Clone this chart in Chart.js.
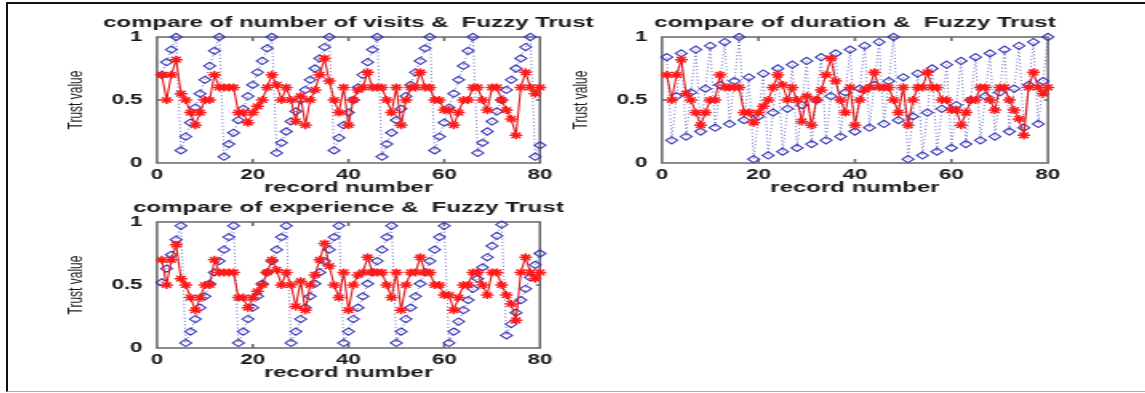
<!DOCTYPE html>
<html>
<head>
<meta charset="utf-8">
<script src="https://cdn.jsdelivr.net/npm/chart.js"></script>
<style>
  html, body { margin: 0; padding: 0; background: #fff; }
  body { width: 1145px; height: 393px; position: relative; overflow: hidden; }
  #frame { position: absolute; left: 6px; top: 2px; width: 1150px; height: 387px;
           border-top: 2px solid #111; border-left: 2px solid #111; border-bottom: 1px solid #aaa; }
  .plot { position: absolute; transform: scaleX(1.6); transform-origin: 0 0; }
</style>
</head>
<body>
<div id="frame"></div>
<div class="plot" style="left:58px;top:5px"><canvas id="visitsChart" width="363" height="195"></canvas></div>
<div class="plot" style="left:563px;top:5px"><canvas id="durationChart" width="365" height="195"></canvas></div>
<div class="plot" style="left:58px;top:190px"><canvas id="experienceChart" width="363" height="195"></canvas></div>
<script>
// values, record 1..80
var xTicks = [0, 20, 40, 60, 80];
var yTicks = [0, 0.5, 1];

var fuzzyTrust = [0.70, 0.50, 0.70, 0.82, 0.55, 0.50, 0.40, 0.30, 0.40, 0.50,
                  0.50, 0.70, 0.60, 0.60, 0.60, 0.60, 0.40, 0.40, 0.32, 0.40,
                  0.45, 0.50, 0.60, 0.70, 0.62, 0.50, 0.60, 0.50, 0.33, 0.53,
                  0.30, 0.50, 0.58, 0.70, 0.83, 0.65, 0.50, 0.40, 0.60, 0.30,
                  0.50, 0.58, 0.60, 0.72, 0.60, 0.60, 0.60, 0.50, 0.40, 0.60,
                  0.30, 0.50, 0.60, 0.60, 0.72, 0.60, 0.60, 0.50, 0.50, 0.42,
                  0.42, 0.30, 0.40, 0.50, 0.50, 0.60, 0.60, 0.50, 0.42, 0.60,
                  0.60, 0.50, 0.42, 0.35, 0.22, 0.60, 0.72, 0.60, 0.55, 0.60];

var visits = [0.70, 0.80, 0.90, 1.00, 0.10, 0.21, 0.32, 0.44, 0.55, 0.66,
              0.77, 0.89, 1.00, 0.05, 0.15, 0.24, 0.34, 0.43, 0.53, 0.62,
              0.72, 0.81, 0.91, 1.00, 0.08, 0.16, 0.25, 0.33, 0.41, 0.50,
              0.58, 0.66, 0.75, 0.83, 0.92, 1.00, 0.10, 0.20, 0.30, 0.40,
              0.50, 0.60, 0.70, 0.80, 0.90, 1.00, 0.05, 0.15, 0.24, 0.34,
              0.43, 0.53, 0.62, 0.72, 0.81, 0.91, 1.00, 0.10, 0.21, 0.32,
              0.44, 0.55, 0.66, 0.77, 0.89, 1.00, 0.08, 0.16, 0.25, 0.33,
              0.41, 0.50, 0.58, 0.66, 0.75, 0.83, 0.92, 1.00, 0.05, 0.14];

var duration = [0.84, 0.18, 0.53, 0.87, 0.21, 0.56, 0.90, 0.25, 0.59, 0.93,
                0.28, 0.62, 0.96, 0.31, 0.65, 1.00, 0.34, 0.68, 0.03, 0.37,
                0.71, 0.06, 0.40, 0.75, 0.09, 0.43, 0.78, 0.12, 0.46, 0.81,
                0.15, 0.50, 0.84, 0.18, 0.53, 0.87, 0.21, 0.56, 0.90, 0.25,
                0.59, 0.93, 0.28, 0.62, 0.96, 0.31, 0.65, 1.00, 0.34, 0.68,
                0.03, 0.37, 0.71, 0.06, 0.40, 0.75, 0.09, 0.43, 0.78, 0.12,
                0.46, 0.81, 0.15, 0.50, 0.84, 0.18, 0.53, 0.87, 0.21, 0.56,
                0.90, 0.25, 0.59, 0.93, 0.28, 0.62, 0.96, 0.31, 0.65, 1.00];

var experience = [0.52, 0.63, 0.74, 0.86, 0.97, 0.04, 0.13, 0.23, 0.32, 0.41,
                  0.51, 0.60, 0.69, 0.78, 0.88, 0.97, 0.04, 0.13, 0.23, 0.32,
                  0.41, 0.51, 0.60, 0.69, 0.78, 0.88, 0.97, 0.04, 0.13, 0.23,
                  0.32, 0.41, 0.51, 0.60, 0.69, 0.78, 0.88, 0.97, 0.04, 0.13,
                  0.23, 0.32, 0.41, 0.51, 0.60, 0.69, 0.78, 0.88, 0.97, 0.04,
                  0.13, 0.23, 0.32, 0.41, 0.51, 0.60, 0.69, 0.78, 0.88, 0.97,
                  0.04, 0.13, 0.21, 0.30, 0.38, 0.47, 0.55, 0.64, 0.72, 0.81,
                  0.89, 0.98, 0.10, 0.19, 0.28, 0.38, 0.47, 0.56, 0.66, 0.75];

var FONT = "'Liberation Sans', Arial, sans-serif";
var TEXT = '#1a1a1a';

// matlab style box with small inward ticks
var axesBox = {
  id: 'axesBox',
  beforeDatasetsDraw(chart) {
    const a = chart.chartArea, ctx = chart.ctx;
    ctx.save();
    ctx.strokeStyle = '#666';
    ctx.lineWidth = 1.5;
    ctx.strokeRect(a.left, a.top, a.right - a.left, a.bottom - a.top);
    ctx.beginPath();
    for (const v of xTicks.slice(1, -1)) {
      const px = chart.scales.x.getPixelForValue(v);
      ctx.moveTo(px, a.bottom); ctx.lineTo(px, a.bottom - 4);
      ctx.moveTo(px, a.top); ctx.lineTo(px, a.top + 4);
    }
    for (const v of yTicks.slice(1, -1)) {
      const py = chart.scales.y.getPixelForValue(v);
      ctx.moveTo(a.left, py); ctx.lineTo(a.left + 2.5, py);
      ctx.moveTo(a.right, py); ctx.lineTo(a.right - 2.5, py);
    }
    ctx.stroke();
    ctx.restore();
  }
};

function toPoints(values) {
  return values.map((v, i) => ({ x: i + 1, y: v }));
}

function makePlot(id, title, name, input, rightPad) {
  new Chart(id, {
    type: 'line',
    data: {
      datasets: [{
        label: 'Fuzzy Trust',
        data: toPoints(fuzzyTrust),
        borderColor: '#dd1515',
        borderWidth: 1.1,
        pointStyle: 'star',
        pointRadius: 4,
        pointBorderColor: '#ff1a1a',
        pointBorderWidth: 1.5,
        pointBackgroundColor: '#ff1a1a',
        clip: false
      }, {
        label: name,
        data: toPoints(input),
        borderColor: 'rgba(80,80,190,0.75)',
        borderWidth: 1,
        borderDash: [1.2, 2.2],
        pointStyle: 'rectRot',
        pointRadius: 3.6,
        pointBorderColor: '#3838b8',
        pointBorderWidth: 1.1,
        pointBackgroundColor: 'rgba(255,255,255,0)',
        clip: false
      }]
    },
    options: {
      responsive: false,
      animation: false,
      events: [],
      layout: { padding: 0 },
      plugins: {
        legend: { display: false },
        tooltip: { enabled: false },
        title: {
          display: true, text: title, color: TEXT,
          font: { family: FONT, size: 15, weight: 'bold', lineHeight: 1 },
          padding: { top: 10.5, bottom: 6.5 }
        }
      },
      scales: {
        x: {
          type: 'linear', min: 0, max: 80,
          grid: { display: false, drawTicks: false }, border: { display: false },
          afterBuildTicks: s => { s.ticks = xTicks.map(v => ({ value: v })); },
          ticks: { padding: 5, color: TEXT, maxRotation: 0, autoSkip: false,
                   callback: v => String(v),
                   font: { family: FONT, size: 14, weight: 'bold', lineHeight: 1 } },
          title: { display: true, text: 'record number', color: TEXT,
                   font: { family: FONT, size: 15, weight: 'bold', lineHeight: 1 },
                   padding: { top: 0, bottom: 4.5 } },
          afterFit: s => { s.height = 37; s.paddingLeft = 0; s.paddingRight = rightPad; }
        },
        y: {
          type: 'linear', min: 0, max: 1,
          grid: { display: false, drawTicks: false }, border: { display: false },
          afterBuildTicks: s => { s.ticks = yTicks.map(v => ({ value: v })); },
          ticks: { padding: 9, color: TEXT,
                   callback: v => String(v),
                   font: { family: FONT, size: 14, weight: 'bold', lineHeight: 1 } },
          title: { display: true, text: 'Trust value', color: TEXT,
                   font: { family: FONT, size: 12, weight: 'normal', lineHeight: 1 },
                   padding: { top: 6, bottom: 0 } },
          afterFit: s => { s.width = 61.9; s.paddingTop = 0; s.paddingBottom = 0; }
        }
      }
    },
    plugins: [axesBox]
  });
}

makePlot('visitsChart', 'compare of number of visits &  Fuzzy Trust', 'number of visits', visits, 61.75);
makePlot('durationChart', 'compare of duration &  Fuzzy Trust', 'duration', duration, 61.9);
makePlot('experienceChart', 'compare of experience &  Fuzzy Trust', 'experience', experience, 61.75);
</script>
</body>
</html>
